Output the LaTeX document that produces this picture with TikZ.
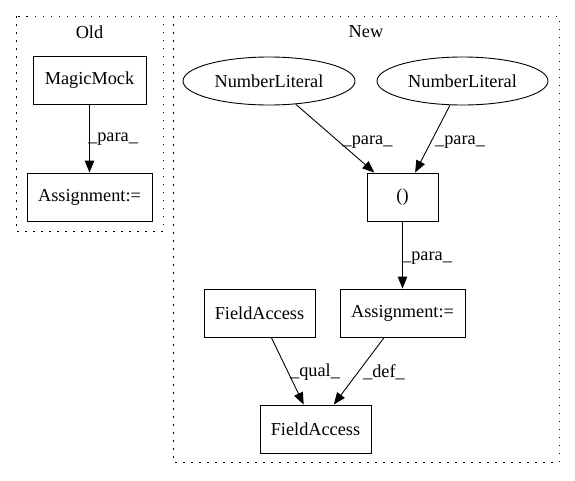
\documentclass[tikz,border=0pt]{standalone}
\usepackage{fontspec}
\setmainfont{Liberation Serif}
\usetikzlibrary{arrows.meta,shapes.geometric}
\begin{document}
\begin{tikzpicture}[x=1pt,y=-1pt,
  every node/.style={font=\fontsize{18.3}{22}\selectfont, inner sep=0pt},
  box/.style={draw, line width=0.9pt, rectangle, minimum height=48pt},
  oval/.style={draw, line width=0.9pt, ellipse, minimum height=48pt},
  cluster/.style={draw, line width=0.9pt, dash pattern=on 1.5pt off 6.5pt},
  edge/.style={draw, line width=0.9pt, -{Triangle[length=12pt,width=9.5pt]}},
  lbl/.style={anchor=center}]
\useasboundingbox (0,0) rectangle (575,480);
% clusters
\draw[cluster] (16,16) rectangle (163,231);
\draw[cluster] (173,16) rectangle (559,462);
\node (oldlbl) at (89.5,32) {Old};
\node (newlbl) at (366,32) {New};
% nodes
\node[box, minimum width=113pt] (mm) at (89.5,80.5) {MagicMock};
\node[box, minimum width=125pt] (oa) at (89.5,197) {Assignment:=};
\node[oval, minimum width=172pt] (nl1) at (269,81) {NumberLiteral};
\node[oval, minimum width=171pt] (nl2) at (462.5,81) {NumberLiteral};
\node[box, minimum width=71pt] (par) at (402.5,197) {()};
\node[box, minimum width=125pt] (na) at (402.5,313) {Assignment:=};
\node[box, minimum width=111pt] (fa1) at (259.5,313) {FieldAccess};
\node[box, minimum width=111pt] (fa2) at (315.5,429) {FieldAccess};
% edges
\draw[edge] (mm) -- (oa);
\draw[edge] (nl1) -- (par);
\draw[edge] (nl2) -- (par);
\draw[edge] (par) -- (na);
\draw[edge] (fa1) -- (fa2);
\draw[edge] (na) -- (fa2);
% edge labels
\node[lbl] (l1) at (113,139) {\_para\_};
\node[lbl] (l2) at (367.5,142) {\_para\_};
\node[lbl] (l3) at (460,142) {\_para\_};
\node[lbl] (l4) at (427,258) {\_para\_};
\node[lbl] (l5) at (315,372) {\_qual\_};
\node[lbl] (l6) at (384,372) {\_def\_};
\end{tikzpicture}
\end{document}
